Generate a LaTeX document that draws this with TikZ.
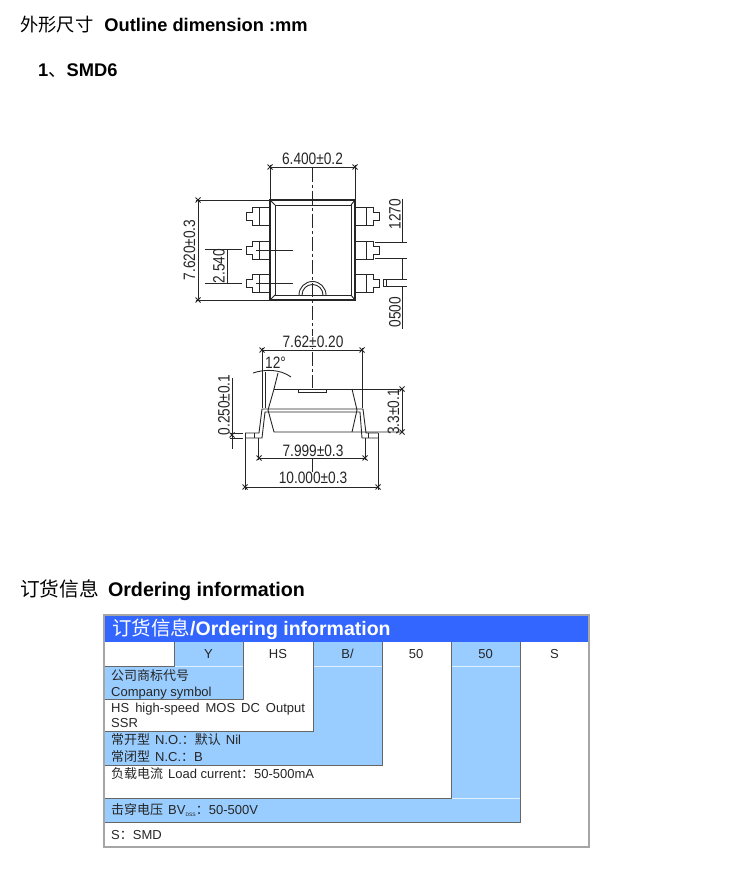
\documentclass[tikz,border=0pt]{standalone}
\usepackage{fontspec}
\setmainfont{Liberation Sans}
\newfontfamily\cjk{Noto Sans CJK SC}
\newfontfamily\cad[FakeStretch=0.83]{Liberation Sans}
\newcommand{\xmark}[1]{\draw[cadline] (#1)+(-2.5,-2.5) -- +(2.5,2.5) (#1)+(-2.5,2.5) -- +(2.5,-2.5);}
\newcommand{\pinshape}{%
  \draw[cadline] (0,-9) -- (-18,-9) -- (-18,-4) -- (-24,-4) -- (-24,4) -- (-18,4) -- (-18,9) -- (0,9);
  \draw[cadline] (-11,-9) -- (-11,9);}
\tikzset{
  x=1pt,y=-1pt,
  cadline/.style={line width=0.9pt,black!85},
  centerline/.style={line width=0.9pt,black!85,dash pattern=on 14pt off 3pt on 3pt off 3pt},
  cadtext/.style={font=\cad\fontsize{16.5}{16.5}\selectfont,inner sep=0pt,text=black!85},
  sectitle/.style={anchor=base west,inner sep=0pt,font=\fontsize{18.3}{18.3}\selectfont\bfseries},
  celltext/.style={font=\fontsize{13}{13}\selectfont,inner sep=0pt,text=black!85},
  rowtext/.style={anchor=base west,font=\fontsize{13}{13}\selectfont,inner sep=0pt,text=black!85},
  tablefill/.style={fill=tableblue,draw=none},
  tableedge/.style={draw=black!60,line width=0.8pt},
  tablesep/.style={draw=white!70!tableblue,line width=0.7pt},
}
\definecolor{tableblue}{HTML}{99CCFF}
\definecolor{headblue}{HTML}{3366FF}
\begin{document}
\begin{tikzpicture}
\useasboundingbox (0,0) rectangle (750,874);
\fill[white] (0,0) rectangle (750,874);

% headings
\node[sectitle] (t1) at (20,32) {{\cjk\mdseries 外形尺寸}\hspace{11pt}Outline dimension :mm};
\node[sectitle,font=\fontsize{18.3}{18.3}\selectfont\bfseries] (t2) at (38,77) {1{\cjk\mdseries 、}SMD6};
\node[sectitle,font=\fontsize{19.7}{19.7}\selectfont\bfseries] (t3) at (20,596) {{\cjk\mdseries 订货信息}\hspace{9pt}Ordering information};

% top view: body
\draw[line width=1.2pt,black!85] (270,200) rectangle (355,300);
\draw[cadline] (275,205) rectangle (351,295);
\draw[cadline] (270,200) -- (275,205) (355,200) -- (351,205) (270,300) -- (275,295) (355,300) -- (351,295);
% pins
\foreach \c in {216,250,283} {
  \begin{scope}[shift={(270,\c)}]\pinshape\end{scope}
  \begin{scope}[shift={(355,\c)},xscale=-1]\pinshape\end{scope}
}
% pin 1 mark
\draw[cadline] (299,295) arc[start angle=180,end angle=360,radius=13.5];
\draw[cadline] (302,295) arc[start angle=180,end angle=360,radius=10.5];
% center lines
\draw[centerline] (312.3,168) -- (312.3,388);
\draw[cadline] (256,250) -- (293,250) (256,283) -- (293,283);
% 6.400
\draw[cadline] (270,165) -- (270,200) (355,165) -- (355,200) (270,167) -- (355,167);
\xmark{270,167}\xmark{355,167}
\node[cadtext] (d640) at (312.5,159) {6.400±0.2};
% 7.620
\draw[cadline] (196,200) -- (270,200) (196,300) -- (270,300) (198,200) -- (198,300);
\xmark{198,200}\xmark{198,300}
\node[cadtext,rotate=90] (d762) at (189.5,250) {7.620±0.3};
% 2.540
\draw[cadline] (205,249.5) -- (242,249.5) (205,283) -- (242,283) (227,249.5) -- (227,283);
\node[cadtext,rotate=90] (d254) at (219,266) {2.540};
% right dims
\draw[cadline] (375,242) -- (407,242) (375,258) -- (407,258) (383,279) -- (407,279) (383,286) -- (407,286);
\draw[cadline] (402,199) -- (402,242) (402,258) -- (402,279) (402,286) -- (402,329);
\draw[cadline] (383,279) -- (383,286) (386,279) -- (386,286);
\node[cadtext,rotate=90] (d127) at (395,214) {1270};
\node[cadtext,rotate=90] (d050) at (395,312) {0500};

% side view
\draw[cadline] (274,389) -- (403,389);
\draw[cadline] (274,389) -- (268,410) -- (274,432) -- (403,432);
\draw[cadline] (352,389) -- (357,410) -- (352,432);
\draw[cadline] (298,389) rectangle (326,392);
% leads
\draw[cadline] (245,433) -- (259,433) -- (262,409) -- (363,409) -- (366,433) -- (378,433);
\draw[cadline] (245,438) -- (262,438) -- (265,412) -- (360,412) -- (362,438) -- (378,438);
\draw[cadline] (245,433) -- (245,438) (254,433) -- (254,438) (368,433) -- (368,438) (378,433) -- (378,438);
% 7.62
\draw[cadline] (262,350) -- (362,350) (262,348) -- (262,408) (265,372) -- (265,408) (362,348) -- (362,408);
\xmark{262,350}\xmark{362,350}
\node[cadtext,fill=white,inner sep=0.5pt] (d762b) at (313,342) {7.62±0.20};
% 12 deg
\draw[cadline] (253,373) .. controls (265,369) and (280,369) .. (291,377);
\draw[cadline] (278,373) -- (274,389);
\node[cadtext] (ang) at (275.5,363) {12°};
% 3.3
\draw[cadline] (402,389) -- (402,432);
\xmark{402,389}\xmark{402,432}
\node[cadtext,rotate=90] (d33) at (393.5,412) {3.3±0.1};
% 0.250
\draw[cadline] (232,378) -- (232,449) (230,433) -- (243,433) (230,438) -- (243,438);
\xmark{232,435}
\node[cadtext,rotate=90] (d025) at (224,405) {0.250±0.1};
% 7.999
\draw[cadline] (258,438) -- (258,460) (365,438) -- (365,460) (259,458) -- (365,458);
\xmark{259,458}\xmark{365,458}
\draw[cadline] (312.3,458) -- (312.3,478);
\node[cadtext,fill=white,inner sep=0.5pt] (d799) at (313,450.5) {7.999±0.3};
% 10.000
\draw[cadline] (245,438) -- (245,490) (378,438) -- (378,490) (245,487) -- (378,487);
\xmark{245,487}\xmark{378,487}
\node[cadtext,fill=white,inner sep=0.5pt] (d1000) at (313,478) {10.000±0.3};

% table
\fill[white] (104,615) rectangle (589,847);
\fill[headblue] (104,615) rectangle (589,642);
\path[tablefill] (174,642) rectangle (243,699);
\path[tablefill] (104,666) rectangle (243,699);
\path[tablefill] (313,642) rectangle (382,765);
\path[tablefill] (104,731) rectangle (382,765);
\path[tablefill] (451,642) rectangle (520,822);
\path[tablefill] (104,798) rectangle (520,822);
\draw[tablesep] (174,666) -- (243,666) (313,666) -- (382,666) (451,666) -- (520,666) (451,798) -- (520,798);
\draw[tableedge] (104,666) -- (174,666) -- (174,642);
\draw[tableedge] (104,699) -- (243,699) -- (243,642);
\draw[tableedge] (104,731) -- (313,731) -- (313,642);
\draw[tableedge] (104,765) -- (382,765) -- (382,642);
\draw[tableedge] (104,798) -- (451,798) -- (451,642);
\draw[tableedge] (104,822) -- (520,822) -- (520,642);
\draw[draw=black!35,line width=1.2pt] (104,615) rectangle (589,847);

\node[anchor=base west,inner sep=0pt,text=white,font=\fontsize{19.5}{19.5}\selectfont\bfseries] (thead) at (112,635) {{\cjk\mdseries 订货信息}/Ordering information};
\node[celltext] (cy) at (208.5,654) {Y};
\node[celltext] (chs) at (278,654) {HS};
\node[celltext] (cb) at (347.5,654) {B/};
\node[celltext] (c50a) at (416,654) {50};
\node[celltext] (c50b) at (485.5,654) {50};
\node[celltext] (cs) at (554.5,654) {S};

\node[rowtext] (r1) at (111,680) {{\cjk 公司商标代号}};
\node[rowtext] (r2) at (111,696) {Company symbol};
\node[rowtext] (r3) at (111,712) {\spaceskip=6pt HS high-speed MOS DC Output};
\node[rowtext] (r4) at (111,727) {SSR};
\node[rowtext] (r5) at (111,744) {{\cjk 常开型}\hspace{5pt}N.O.{\cjk ：默认}\hspace{5pt}Nil};
\node[rowtext] (r6) at (111,761) {{\cjk 常闭型}\hspace{5pt}N.C.{\cjk ：}B};
\node[rowtext] (r7) at (111,778) {{\cjk 负载电流}\hspace{5pt}Load current{\cjk ：}50-500mA};
\node[rowtext] (r8) at (111,814) {{\cjk 击穿电压}\hspace{5pt}BV\raisebox{-2pt}{\fontsize{5}{5}\selectfont DSS}{\cjk ：}50-500V};
\node[rowtext] (r9) at (111,839) {S{\cjk ：}SMD};
\end{tikzpicture}
\end{document}
